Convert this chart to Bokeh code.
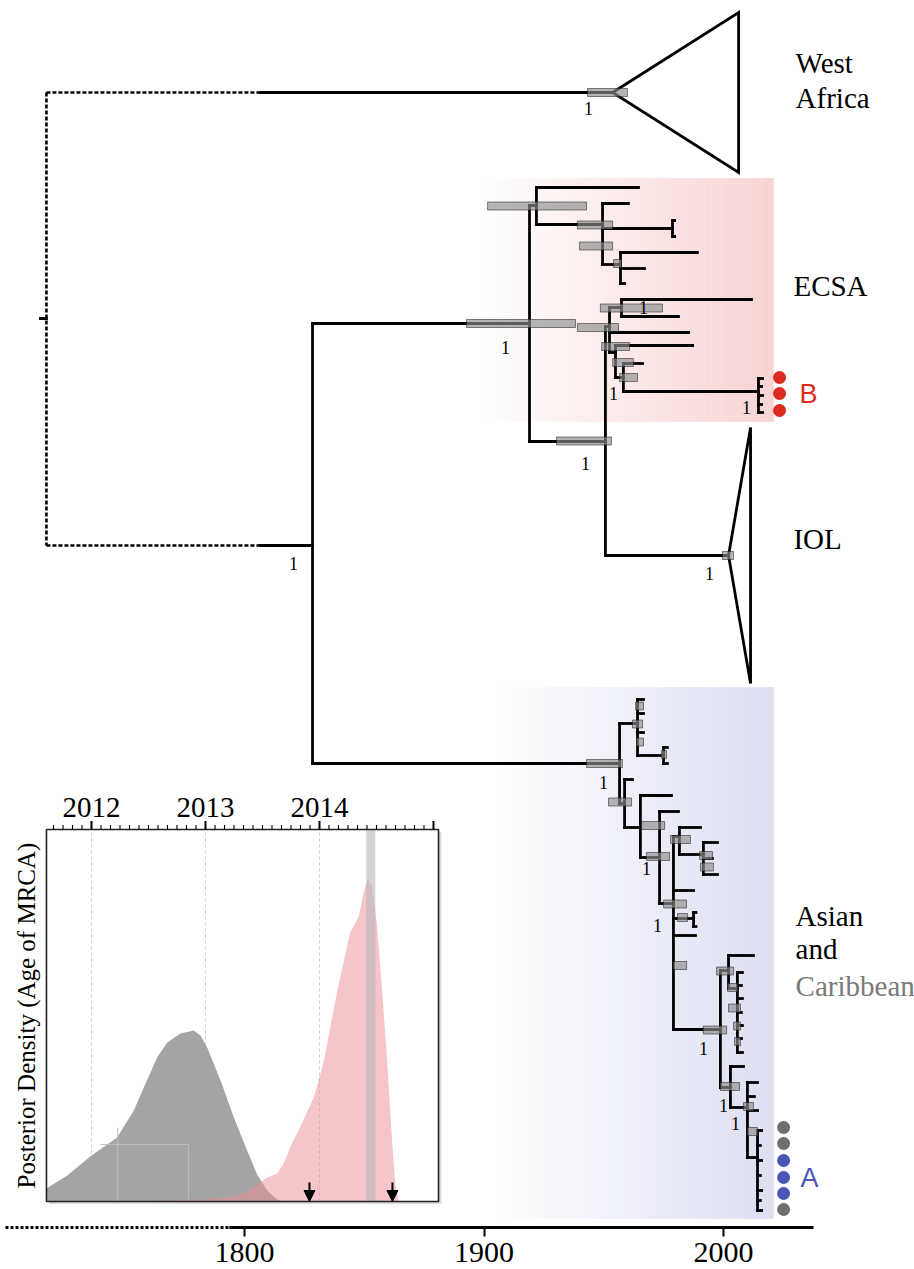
import numpy as np
from bokeh.plotting import figure
from bokeh.models import Range1d, FixedTicker, Arrow, NormalHead
from bokeh.core.properties import value
from bokeh.embed import file_html
from bokeh.resources import INLINE

SERIF = "Liberation Serif"
SANS = "Liberation Sans"

# ---------------- data ----------------
axis_years = [1800, 1900, 2000]

# horizontal branches (row, start date, end date)
h_y = [92, 545, 318, 323, 763, 205, 441, 187, 224, 203,
       228, 264, 252, 268, 283, 555, 326, 307, 299, 316,
       332, 352, 345, 377, 363, 391, 378, 386, 395, 404,
       412, 220, 236,
       723, 803, 699, 713, 732, 755, 747, 763, 779, 827,
       795, 857, 811, 903, 836, 890, 918, 935, 1029, 827,
       854, 842, 858, 874, 912, 926, 970, 1087, 955, 988,
       972, 985, 998, 1012, 1025, 1038, 1052,
       1066, 1107, 1082, 1096, 1110, 1157,
       1130, 1145, 1160, 1175, 1190, 1200, 1210]
h_from = [1806.7, 1806.7, 1714.8, 1828.4, 1828.4, 1919.0, 1919.0, 1921.9, 1921.9, 1949.5,
          1949.5, 1949.5, 1957.0, 1957.0, 1957.0, 1950.7, 1950.7, 1952.4, 1957.4, 1957.4,
          1952.4, 1952.4, 1954.9, 1954.9, 1958.2, 1958.2, 2014.6, 2014.6, 2014.6, 2014.6,
          2014.6, 1978.7, 1978.7,
          1956.6, 1956.6, 1964.1, 1964.1, 1964.1, 1964.1, 1975.0, 1975.0, 1958.7, 1958.7,
          1965.3, 1965.3, 1973.3, 1973.3, 1979.1, 1979.1, 1979.1, 1979.1, 1979.1, 1981.6,
          1981.6, 1991.6, 1991.6, 1991.6, 1987.5, 1987.5, 1998.7, 1998.7, 2002.1, 2002.1,
          2005.8, 2005.8, 2005.8, 2005.8, 2005.8, 2005.8, 2005.8,
          2002.9, 2002.9, 2010.0, 2010.0, 2010.0, 2010.0,
          2014.2, 2014.2, 2014.2, 2014.2, 2014.2, 2014.2, 2014.2]
h_to = [1953.7, 1828.4, 1717.3, 1919.0, 1956.6, 1921.9, 1950.7, 1964.5, 1949.5, 1960.3,
        1978.7, 1957.0, 1989.1, 1967.0, 1958.7, 2002.1, 1952.4, 1957.4, 2011.7, 1981.2,
        1985.4, 1954.9, 1987.1, 1958.2, 1966.2, 2014.6, 2016.3, 2015.9, 2016.3, 2015.9,
        2016.3, 1979.6, 1979.6,
        1964.1, 1958.7, 1966.6, 1966.6, 1966.6, 1975.0, 1976.6, 1976.6, 1962.0, 1965.3,
        1978.3, 1973.3, 1981.2, 1979.1, 1981.6, 1987.5, 1987.5, 1988.3, 1998.7, 1990.4,
        1991.6, 1997.5, 1995.4, 1997.5, 1988.5, 1988.5, 2002.1, 2002.9, 2012.5, 2005.8,
        2007.9, 2007.5, 2007.9, 2007.5, 2007.9, 2007.5, 2007.9,
        2008.4, 2010.0, 2014.2, 2012.9, 2014.2, 2014.2,
        2015.9, 2015.4, 2015.9, 2015.4, 2015.9, 2015.4, 2015.9]

# vertical connectors (node date, first row, last row)
v_x = [1828.4, 1919.0, 1921.9, 1949.5, 1957.0, 1978.7, 1950.7, 1952.4, 1957.4, 1954.9,
       1958.2, 2014.6, 1956.6, 1964.1, 1975.0, 1958.7, 1965.3, 1973.3, 1979.1, 1981.6,
       1991.6, 1987.5, 1998.7, 2002.1, 2005.8, 2002.9, 2010.0, 2014.2]
v_top = [323, 205, 187, 203, 252, 220, 326, 307, 299, 345,
         363, 378, 723, 699, 747, 779, 795, 811, 836, 827,
         842, 912, 970, 955, 972, 1066, 1082, 1130]
v_bot = [763, 441, 224, 264, 283, 236, 555, 352, 316, 377,
         391, 412, 803, 755, 763, 827, 857, 903, 1029, 854,
         874, 926, 1087, 988, 1052, 1107, 1157, 1210]

# unresolved root (dashed)
root_x = [1717.3, 1806.7]
root_rows = [92, 545]

# 95% HPD bars of node ages
hpd_lo = [1943.2, 1892.7, 1901.5, 1939.0, 1939.9, 1954.1, 1948.6, 1939.0, 1949.1, 1953.7,
          1956.6, 1930.3, 1999.6, 1942.8, 1963.3, 1962.0, 1963.7, 1974.1, 1952.0, 1965.8,
          1967.8, 1975.0, 1977.9, 1990.0, 1990.4, 1980.8, 1979.1, 1997.1, 2001.7, 2002.1,
          2004.2, 2004.6, 1991.6, 1998.7, 2008.4, 2010.0]
hpd_hi = [1959.9, 1938.2, 1942.8, 1953.7, 1953.7, 1957.4, 1974.5, 1956.2, 1960.8, 1962.4,
          1964.1, 1953.2, 2004.2, 1957.8, 1966.6, 1966.2, 1966.6, 1976.2, 1961.6, 1975.4,
          1977.5, 1984.6, 1986.2, 1995.4, 1995.8, 1985.0, 1984.6, 2004.2, 2005.8, 2007.1,
          2007.1, 2007.1, 2001.3, 2006.7, 2012.5, 2014.2]
hpd_row = [92, 323, 205.5, 224.5, 245.5, 263, 307.5, 327, 346, 362,
           377, 440.5, 555, 763, 705.5, 723.5, 741.5, 754, 801.5, 825,
           856, 903.5, 839, 855, 866.5, 917, 965, 970.5, 987, 1007.5,
           1025.5, 1041, 1029.5, 1086, 1106, 1131]

# posterior support labels
post_x = [1943.6, 1820.5, 1909.0, 1966.6, 1954.1, 2009.6, 1942.4, 1994.2,
          1949.9, 1967.8, 1972.4, 1991.6, 2000.0, 2005.0]
post_row = [108, 563, 347, 307, 393, 407, 463, 573,
            782, 868, 925, 1048, 1105, 1123]

# collapsed clades (apex date, tip date, rows)
wa_x = [1953.7, 2006.3, 2006.3]
wa_row = [92, 12, 172]
iol_x = [2002.1, 2011.3, 2011.3]
iol_row = [555, 427, 683]

# highlighted sample groups
b_rows = [377, 393, 410]
a_rows = [1127, 1143, 1160, 1177, 1193, 1209]
a_colors = ["#6e6e6e", "#6e6e6e", "#4a55b5", "#4a55b5", "#4a55b5", "#6e6e6e"]

# inset: posterior density of MRCA age
inset_majors = [2012, 2013, 2014]
grey_years = [2011.605, 2011.787, 2012.000, 2012.225, 2012.371, 2012.459, 2012.576,
              2012.664, 2012.781, 2012.898, 2012.956, 2013.015, 2013.132, 2013.249,
              2013.365, 2013.453, 2013.541, 2013.629, 2013.687]
grey_dens = [0.13, 0.26, 0.46, 0.64, 0.91, 1.14, 1.44,
             1.59, 1.68, 1.71, 1.66, 1.54, 1.21, 0.84,
             0.51, 0.27, 0.11, 0.02, 0.0]
pink_years = [2012.430, 2012.956, 2013.249, 2013.365, 2013.453, 2013.541, 2013.629,
              2013.687, 2013.746, 2013.833, 2013.950, 2014.038, 2014.096, 2014.155,
              2014.213, 2014.272, 2014.345, 2014.389, 2014.427, 2014.462, 2014.506,
              2014.550, 2014.594, 2014.637, 2014.667, 2014.696]
pink_dens = [0.0, 0.02, 0.05, 0.10, 0.17, 0.24, 0.28,
             0.38, 0.55, 0.75, 1.04, 1.40, 1.75, 2.10,
             2.40, 2.70, 2.85, 3.10, 3.23, 3.15, 2.75,
             2.10, 1.40, 0.60, 0.15, 0.0]
sample_band = [2014.41, 2014.49]
hpd_arrows = [2013.912, 2014.64]

# ---------------- figure ----------------
p = figure(frame_width=914, frame_height=1269,
           x_range=Range1d(1698.12, 2079.75), y_range=Range1d(1269, 0),
           y_axis_location=None, output_backend="svg", toolbar_location=None,
           min_border=0, outline_line_color=None)
p.xgrid.visible = False
p.ygrid.visible = False
p.background_fill_color = "white"
p.border_fill_color = "white"
p.extra_x_ranges = {"ix": Range1d(2011.2018, 2019.2193)}
p.extra_y_ranges = {"iy": Range1d(-0.68, 12.01)}

ax = p.xaxis[0]
ax.fixed_location = 1227.5
ax.ticker = FixedTicker(ticks=axis_years)
ax.axis_line_color = None
ax.major_tick_line_width = 2
ax.major_tick_in = 0
ax.major_tick_out = 8
ax.minor_tick_line_color = None
ax.major_label_text_font = SERIF
ax.major_label_text_font_size = "30px"
ax.major_label_standoff = 7
ax.major_label_text_color = "black"


def gradient(x0, x1, top, bottom, rgb, n=90):
    edges = np.linspace(x0, x1, n + 1)
    t = (np.arange(n) + 0.5) / n
    cols = ["#%02x%02x%02x" % tuple(int(round(255 + (c - 255) * tt)) for c in rgb) for tt in t]
    p.quad(left=edges[:-1], right=edges[1:], top=top, bottom=bottom,
           fill_color=cols, line_color=cols, line_width=0.6)


# shaded clade backgrounds
gradient(1898.5, 2020.9, 178, 421, (247, 211, 211))
gradient(1905.6, 2020.9, 687, 1218, (220, 222, 242))

# dashed root
p.segment(x0=[root_x[0]] * 2, y0=root_rows, x1=[root_x[1]] * 2, y1=root_rows,
          line_color="black", line_width=2.6, line_dash="4 2")
p.segment(x0=[root_x[0]], y0=[root_rows[0]], x1=[root_x[0]], y1=[root_rows[1]],
          line_color="black", line_width=2.6, line_dash="4 2")

# tree
p.segment(x0=h_from, y0=h_y, x1=h_to, y1=h_y, line_color="black", line_width=2.8,
          line_cap="square")
p.segment(x0=v_x, y0=v_top, x1=v_x, y1=v_bot, line_color="black", line_width=2.8,
          line_cap="square")

# collapsed clades
for xs, ys in ((wa_x, wa_row), (iol_x, iol_row)):
    p.patch(x=xs, y=ys, fill_color=None, line_color="black", line_width=2.8,
            line_join="miter")

# HPD bars
p.quad(left=hpd_lo, right=hpd_hi, top=[r - 4 for r in hpd_row], bottom=[r + 4 for r in hpd_row],
       fill_color="#8e8e8e", fill_alpha=0.65, line_color="#222222", line_alpha=0.55, line_width=1)

# posterior support
p.text(x=post_x, y=post_row, text=["1"] * len(post_x), text_font=value(SERIF),
       text_font_size="18px", text_align="center", text_baseline="middle", text_color="black")

# main time axis line
p.segment(x0=[1793.7], y0=[1227], x1=[2037.6], y1=[1227], line_color="black", line_width=3)
p.segment(x0=[1700.2], y0=[1227], x1=[1793.7], y1=[1227], line_color="black",
          line_width=3, line_dash="3 2")

# clade labels
p.text(x=[2030.1, 2030.1, 2029.2, 2029.2, 2030.1, 2030.1],
       y=[62, 97, 285, 538, 915, 948],
       text=["West", "Africa", "ECSA", "IOL", "Asian", "and"],
       text_font=value(SERIF), text_font_size="29px", text_align="left",
       text_baseline="middle", text_color="black")
p.text(x=[2030.1], y=[985], text=["Caribbean"], text_font=value(SERIF), text_font_size="29px",
       text_align="left", text_baseline="middle", text_color="#7a7a7a")

# sample dots
p.scatter(x=[2023.4] * len(b_rows), y=b_rows, size=13, fill_color="#dc2b1e", line_color=None)
p.scatter(x=[2025.1] * len(a_rows), y=a_rows, size=13, fill_color=a_colors, line_color=None)
p.text(x=[2031.7], y=[393], text=["B"], text_font=value(SANS), text_font_size="27px",
       text_align="left", text_baseline="middle", text_color="#dc2b1e")
p.text(x=[2032.2], y=[1177], text=["A"], text_font=value(SANS), text_font_size="27px",
       text_align="left", text_baseline="middle", text_color="#4a55b5")

# ---------------- inset ----------------
R = dict(x_range_name="ix", y_range_name="iy")
box_l, box_r, box_b, box_t = 2011.605, 2015.044, 0.0, 3.72
p.quad(left=[box_l + 0.025], right=[box_r + 0.025], bottom=[box_b - 0.025], top=[box_t - 0.025],
       fill_color="#888888", fill_alpha=0.3, line_color=None, **R)
p.quad(left=[box_l], right=[box_r], bottom=[box_b], top=[box_t], fill_color="white",
       line_color=None, **R)
p.segment(x0=inset_majors, y0=[box_b] * 3, x1=inset_majors, y1=[box_t] * 3,
          line_color="#cfcfcf", line_width=1, line_dash="3 3", **R)
p.varea(x=grey_years, y1=[0] * len(grey_years), y2=grey_dens, fill_color="#a4a4a4", **R)
# faint artefact rectangle inside grey area
p.line(x=[2012.23, 2012.23], y=[0, 0.74], line_color="#bdbdbd", line_width=1, **R)
p.line(x=[2012.08, 2012.85, 2012.85], y=[0.57, 0.57, 0], line_color="#bdbdbd", line_width=1, **R)
p.varea(x=pink_years, y1=[0] * len(pink_years), y2=pink_dens, fill_color="#eb8c96",
        fill_alpha=0.5, **R)
p.quad(left=[sample_band[0]], right=[sample_band[1]], bottom=[box_b], top=[box_t],
       fill_color="#b8b8b8", fill_alpha=0.6, line_color=None, **R)
p.quad(left=[box_l], right=[box_r], bottom=[box_b], top=[box_t], fill_color=None,
       line_color="#222222", line_width=1.6, **R)
minor = [2011 + k / 12 for k in range(8, 49) if k % 12 != 0]
p.segment(x0=minor, y0=[box_t] * len(minor), x1=minor, y1=[box_t + 0.045] * len(minor),
          line_color="black", line_width=1.1, **R)
majors_all = inset_majors + [2015]
p.segment(x0=majors_all, y0=[box_t] * 4, x1=majors_all, y1=[box_t + 0.085] * 4,
          line_color="black", line_width=2, **R)
p.text(x=inset_majors, y=[3.945] * 3, text=[str(v) for v in inset_majors],
       text_font=value(SERIF), text_font_size="29px", text_align="center",
       text_baseline="middle", text_color="black", **R)
p.text(x=[2011.43], y=[1.86], text=["Posterior Density (Age of MRCA)"], angle=np.pi / 2,
       text_font=value(SERIF), text_font_size="25px", text_align="center",
       text_baseline="middle", text_color="black", **R)
for xa in hpd_arrows:
    p.add_layout(Arrow(end=NormalHead(size=11, fill_color="black", line_color="black"),
                       x_start=xa, y_start=0.19, x_end=xa, y_end=0.0,
                       line_color="black", line_width=2, **R))

open("out.html", "w").write(file_html(p, INLINE))
